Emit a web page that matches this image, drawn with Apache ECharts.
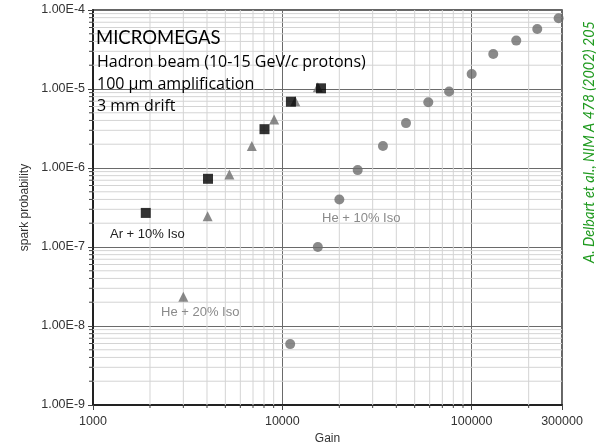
<!DOCTYPE html>
<html>
<head>
<meta charset="utf-8">
<script src="https://cdn.jsdelivr.net/npm/echarts@6/dist/echarts.min.js"></script>
<style>
html,body{margin:0;padding:0;background:#fff;}
#chart{width:596px;height:445px;}
</style>
</head>
<body>
<div id="chart"></div>
<script>
// ---- data ----
const X_MIN = 1000, X_MAX = 300000;
const Y_MIN = 1e-9, Y_MAX = 1e-4;

const arIso10 = [[1900, 2.7e-7], [4050, 7.3e-7], [8050, 3.1e-6], [11100, 6.9e-6], [16000, 1.02e-5]];
const heIso20 = [[3000, 2.35e-8], [4030, 2.45e-7], [5250, 8.3e-7], [6900, 1.9e-6], [9050, 4.1e-6], [11700, 7.0e-6], [15400, 1.05e-5]];
const heIso10 = [[11000, 5.9e-9], [15400, 1.0e-7], [20000, 4.0e-7], [25000, 9.4e-7], [34000, 1.9e-6],
                 [45000, 3.7e-6], [59000, 6.8e-6], [76000, 9.3e-6], [100000, 1.55e-5], [130000, 2.77e-5],
                 [172000, 4.1e-5], [222000, 5.75e-5], [288000, 7.85e-5]];

const xMinorTicks = [2000, 3000, 4000, 5000, 6000, 7000, 8000, 9000,
                     20000, 30000, 40000, 50000, 60000, 70000, 80000, 90000, 200000];
const yMinorTicks = [];
[1e-9, 1e-8, 1e-7, 1e-6, 1e-5].forEach(d => { for (let k = 2; k <= 9; k++) yMinorTicks.push(+(d * k).toPrecision(3)); });

const noteLines = ['MICROMEGAS', 'Hadron beam (10-15 GeV/', '100 µm amplification', '3 mm drift'];
const citation = 'A. Delbart et al., NIM A 478 (2002) 205';

// ---- chart ----
const chart = echarts.init(document.getElementById('chart'), null, {renderer: 'canvas'});
const minorColor = '#d4d4d4';
const tickColor = '#444';

function xMinorItem(params, api) {
  const x = api.value(0);
  const top = api.coord([x, Y_MAX]);
  const bot = api.coord([x, Y_MIN]);
  return {type: 'group', children: [
    {type: 'line', shape: {x1: top[0], y1: top[1], x2: bot[0], y2: bot[1]}, style: {stroke: minorColor, lineWidth: 1}},
    {type: 'line', shape: {x1: bot[0], y1: bot[1], x2: bot[0], y2: bot[1] + 3}, style: {stroke: tickColor, lineWidth: 1}}
  ]};
}
function yMinorItem(params, api) {
  const y = api.value(1);
  const l = api.coord([X_MIN, y]);
  const r = api.coord([X_MAX, y]);
  return {type: 'group', children: [
    {type: 'line', shape: {x1: l[0], y1: l[1], x2: r[0], y2: r[1]}, style: {stroke: minorColor, lineWidth: 1}},
    {type: 'line', shape: {x1: l[0] - 4, y1: l[1], x2: l[0], y2: l[1]}, style: {stroke: tickColor, lineWidth: 1}}
  ]};
}

const labelFont = 'Liberation Sans';
const noteFont = 'Open Sans';

chart.setOption({
  animation: false,
  backgroundColor: '#fff',
  grid: {left: 93, right: 34, top: 10, bottom: 40, containLabel: false, outerBoundsMode: 'none',
         show: true, borderColor: '#333', borderWidth: 1.5, backgroundColor: 'transparent'},
  xAxis: {
    type: 'log', logBase: 10, min: X_MIN, max: X_MAX,
    name: 'Gain', nameLocation: 'middle', nameGap: 27,
    nameTextStyle: {fontFamily: labelFont, fontSize: 12, color: '#333'},
    axisLine: {show: true, lineStyle: {color: '#222', width: 2}},
    axisTick: {show: true, length: 5, lineStyle: {color: tickColor}},
    axisLabel: {fontFamily: labelFont, fontSize: 12.5, color: '#333', margin: 10, showMaxLabel: true, showMinLabel: true,
      formatter: v => String(Math.round(v))},
    splitLine: {show: true, lineStyle: {color: '#6a6a6a', width: 1}}
  },
  yAxis: {
    type: 'log', logBase: 10, min: Y_MIN, max: Y_MAX,
    name: 'spark probability', nameLocation: 'middle', nameGap: 57,
    nameTextStyle: {fontFamily: labelFont, fontSize: 12, color: '#333'},
    axisLine: {show: true, lineStyle: {color: '#222', width: 2}},
    axisTick: {show: true, length: 5, lineStyle: {color: tickColor}},
    axisLabel: {fontFamily: labelFont, fontSize: 12.5, color: '#333', margin: 8,
      formatter: v => Number(v).toExponential(2).toUpperCase()},
    splitLine: {show: true, lineStyle: {color: '#6a6a6a', width: 1}}
  },
  series: [
    {type: 'custom', name: 'xminor', renderItem: xMinorItem, data: xMinorTicks.map(v => [v, Y_MIN]), z: 1, silent: true, clip: false},
    {type: 'custom', name: 'yminor', renderItem: yMinorItem, data: yMinorTicks.map(v => [X_MIN, v]), z: 1, silent: true, clip: false},
    {type: 'scatter', name: 'He + 10% Iso', data: heIso10, symbol: 'circle', symbolSize: 10, itemStyle: {color: '#6d6d6d'}, z: 3},
    {type: 'scatter', name: 'He + 20% Iso', data: heIso20, symbol: 'triangle', symbolSize: 10, itemStyle: {color: '#6d6d6d'}, z: 3},
    {type: 'scatter', name: 'Ar + 10% Iso', data: arIso10, symbol: 'rect', symbolSize: 10, itemStyle: {color: '#000'}, z: 4}
  ],
  graphic: [
    {type: 'text', left: 96, top: 29, z: 10, style: {text: noteLines[0], fontFamily: 'Lato', fontSize: 18.5, fill: '#000'}},
    {type: 'text', left: 97, top: 54, z: 10, style: {
      rich: {n: {fontFamily: noteFont, fontSize: 16, fill: '#000'}, i: {fontFamily: noteFont, fontStyle: 'italic', fontSize: 16, fill: '#000'}},
      text: '{n|' + noteLines[1] + '}{i|c}{n| protons)}'}},
    {type: 'text', left: 97, top: 76, z: 10, style: {text: noteLines[2], fontFamily: noteFont, fontSize: 16, fill: '#000'}},
    {type: 'text', left: 97, top: 98, z: 10, style: {text: noteLines[3], fontFamily: noteFont, fontSize: 16, fill: '#000'}},
    {type: 'text', left: 110, top: 228, z: 10, style: {text: 'Ar + 10% Iso', fontFamily: labelFont, fontSize: 13, fill: '#222'}},
    {type: 'text', left: 161, top: 306, z: 10, style: {text: 'He + 20% Iso', fontFamily: labelFont, fontSize: 13, fill: '#8a8a8a'}},
    {type: 'text', left: 322, top: 212, z: 10, style: {text: 'He + 10% Iso', fontFamily: labelFont, fontSize: 13, fill: '#8a8a8a'}},
    {type: 'text', x: 589, y: 142, rotation: Math.PI / 2, z: 10, style: {text: citation, fontFamily: 'Lato', fontStyle: 'italic', fontSize: 14.5, fill: '#1f9a1f', align: 'center', verticalAlign: 'middle'}}
  ]
});
</script>
</body>
</html>
